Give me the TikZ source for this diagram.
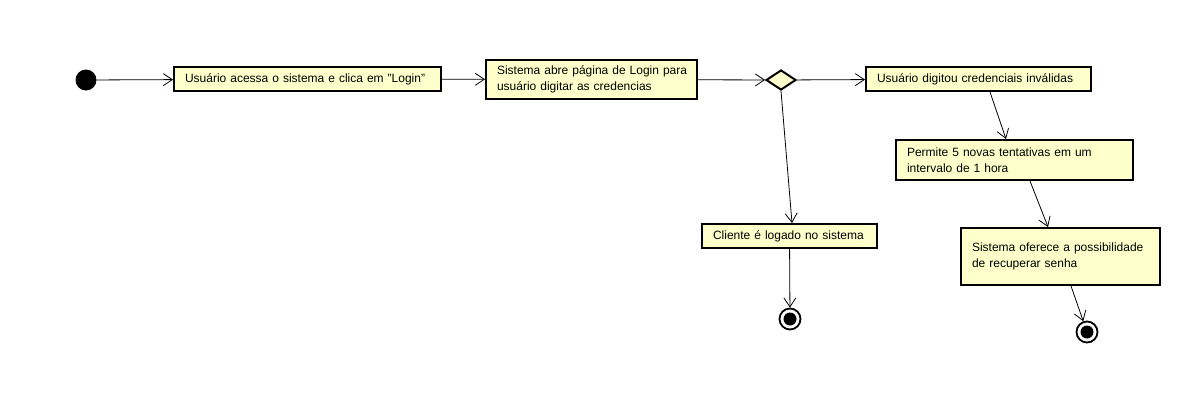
\documentclass[tikz,border=0pt]{standalone}
\usepackage{fontspec}
\setmainfont{Liberation Sans}
\usetikzlibrary{arrows.meta,shapes.geometric,calc,positioning}
\definecolor{acfill}{HTML}{FFFFCC}

\begin{document}
\begin{tikzpicture}[
    x=1pt, y=-1pt,
    >={Straight Barb[length=9pt,width=12pt,line width=0.8pt]},
    flow/.style   = {draw, ->, line width=0.8pt},
    action/.style = {draw, line width=2pt, fill=acfill, inner xsep=11pt, inner ysep=2pt,
                     align=left, font=\fontsize{12}{16.5}\selectfont},
    start/.style  = {circle, fill=black, minimum size=21pt, inner sep=0pt},
    stop/.style   = {circle, draw, line width=1.8pt, fill=white, minimum size=21pt, inner sep=0pt,
                     path picture={\fill[black] (path picture bounding box.center) circle (6.5pt);}},
    choice/.style = {diamond, draw, line width=2pt, fill=acfill, minimum width=30pt, minimum height=20pt,
                     inner sep=0pt, aspect=1.5},
  ]
	\useasboundingbox (0,0) rectangle (1201,410);
	
	% Startknoten
	\node (start) at (86,80) [start]{};
	
	% Aktionen
	\node (access) at (307.5,79) [action, text width=245pt, minimum height=24pt]
		{\mbox{Usuário acessa o sistema e clica em "Login"}};
	\node (page) at (591.5,79.5) [action, text width=189pt, minimum height=39pt]
		{\mbox{Sistema abre página de Login para}\\\mbox{usuário digitar as credencias}};
	\node (check) at (781,80) [choice]{};
	\node (invalid) at (978.5,79) [action, text width=203pt, minimum height=24pt]
		{\mbox{Usuário digitou credenciais inválidas}};
	\node (retry) at (1014.5,160) [action, text width=215pt, minimum height=40pt]
		{\mbox{Permite 5 novas tentativas em um}\\\mbox{intervalo de 1 hora}};
	\node (recover) at (1060.5,256.5) [action, text width=177pt, minimum height=57pt]
		{\mbox{Sistema oferece a possibilidade}\\\mbox{de recuperar senha}};
	\node (logged) at (789.5,236) [action, text width=153pt, minimum height=24pt]
		{\mbox{Cliente é logado no sistema}};
	
	% Endknoten
	\node (stopA) at (790,319) [stop]{};
	\node (stopB) at (1087,332) [stop]{};
	
	% Kanten
	\draw[flow] (start) -- (access);
	\draw[flow] (access) -- (page);
	\draw[flow] (page) -- (check);
	\draw[flow] (check) -- (invalid);
	\draw[flow] (check.south) -- ([xshift=2.5pt]logged.north);
	\draw[flow] (logged) -- (stopA);
	\draw[flow] ([xshift=11.5pt]invalid.south) -- ([xshift=-8.5pt]retry.north);
	\draw[flow] ([xshift=15.5pt]retry.south) -- ([xshift=-12.5pt]recover.north);
	\draw[flow] ([xshift=10.5pt]recover.south) -- (stopB);
	
\end{tikzpicture}
\end{document}
